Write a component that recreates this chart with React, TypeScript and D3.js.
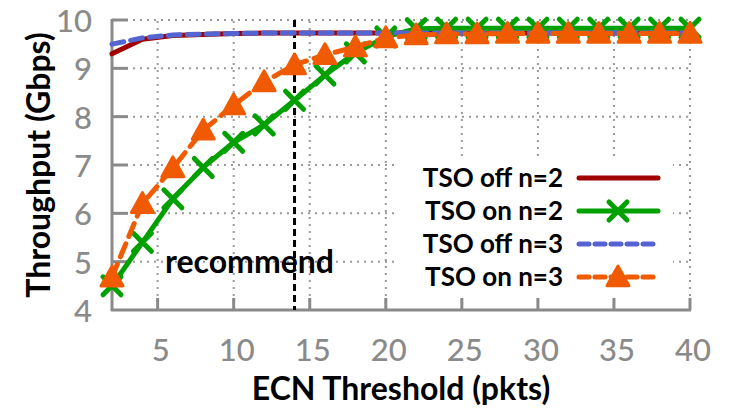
import React from "react";
import * as d3 from "d3";

const thresholds = [2, 4, 6, 8, 10, 12, 14, 16, 18, 20, 22, 24, 26, 28, 30, 32, 34, 36, 38, 40];
const tsoOffN2 = [9.3, 9.6, 9.68, 9.7, 9.72, 9.73, 9.73, 9.73, 9.73, 9.73, 9.73, 9.73, 9.73, 9.73, 9.73, 9.73, 9.73, 9.73, 9.73, 9.73];
const tsoOnN2 = [4.5, 5.4, 6.3, 6.95, 7.47, 7.83, 8.34, 8.86, 9.32, 9.65, 9.82, 9.83, 9.83, 9.83, 9.83, 9.83, 9.83, 9.83, 9.83, 9.83];
const tsoOffN3 = [9.5, 9.63, 9.69, 9.71, 9.72, 9.73, 9.73, 9.73, 9.73, 9.73, 9.73, 9.73, 9.73, 9.73, 9.73, 9.73, 9.73, 9.73, 9.73, 9.73];
const tsoOnN3 = [4.68, 6.2, 6.94, 7.72, 8.24, 8.72, 9.07, 9.28, 9.44, 9.63, 9.69, 9.71, 9.71, 9.72, 9.72, 9.72, 9.72, 9.72, 9.72, 9.72];
const xTicks = [5, 10, 15, 20, 25, 30, 35, 40];
const yTicks = [4, 5, 6, 7, 8, 9, 10];
const recommendAt = 14;

const W = 731;
const H = 412;
const gray = "#8a8a8a";
const font = "Lato, 'Open Sans', sans-serif";

export default function App() {
  const x = d3.scaleLinear().domain([2, 40]).range([112, 690]);
  const y = d3.scaleLinear().domain([4, 10]).range([310, 20]);

  const pts = (vals: number[]) => thresholds.map((t, i) => [t, vals[i]] as [number, number]);
  const line = d3.line<[number, number]>().x((d) => x(d[0])).y((d) => y(d[1]));

  const series = [
    { name: "TSO off n=2", vals: tsoOffN2, color: "#a00000", dash: "", marker: "none" },
    { name: "TSO on n=2", vals: tsoOnN2, color: "#00a000", dash: "", marker: "x" },
    { name: "TSO off n=3", vals: tsoOffN3, color: "#5464d0", dash: "12,7", marker: "none" },
    { name: "TSO on n=3", vals: tsoOnN3, color: "#f05a00", dash: "14,8", marker: "tri" },
  ];

  const marker = (kind: string, cx: number, cy: number, color: string, key: string | number) => {
    if (kind === "x") {
      const s = 9;
      return (
        <path
          key={key}
          d={`M${cx - s},${cy - s}L${cx + s},${cy + s}M${cx - s},${cy + s}L${cx + s},${cy - s}`}
          stroke={color}
          strokeWidth={5}
          strokeLinecap="round"
        />
      );
    }
    if (kind === "tri") {
      const s = 11;
      return (
        <path
          key={key}
          d={`M${cx},${cy - s}L${cx + s},${cy + s * 0.8}L${cx - s},${cy + s * 0.8}Z`}
          fill={color}
          stroke={color}
          strokeWidth={3}
          strokeLinejoin="round"
        />
      );
    }
    return null;
  };

  const legendY = [178, 211, 244, 277];

  return (
    <svg width={W} height={H} style={{ position: "absolute", left: 0, top: 0, background: "#fff" }}>
      {/* grid */}
      <g stroke="#999" strokeWidth={2} strokeDasharray="2,5">
        {yTicks.slice(1).map((t) => (
          <line key={"gy" + t} x1={x(2)} x2={x(40)} y1={y(t)} y2={y(t)} />
        ))}
        {xTicks.map((t) => (
          <line key={"gx" + t} x1={x(t)} x2={x(t)} y1={y(4)} y2={y(10)} />
        ))}
      </g>

      {/* axes */}
      <g stroke={gray} strokeWidth={3}>
        <line x1={x(2)} x2={x(2)} y1={y(10) - 1} y2={y(4) + 1} />
        <line x1={x(2) - 1} x2={x(40) + 1} y1={y(4)} y2={y(4)} />
        {yTicks.slice(1).map((t) => (
          <line key={"ty" + t} x1={x(2)} x2={x(2) + 16} y1={y(t)} y2={y(t)} />
        ))}
        {xTicks.map((t) => (
          <line key={"tx" + t} x1={x(t)} x2={x(t)} y1={y(4)} y2={y(4) - 12} />
        ))}
      </g>
      <g fill={gray} fontFamily={font} fontSize={31} fontWeight={500}>
        {yTicks.map((t) => (
          <text key={"ly" + t} x={x(2) - 20} y={y(t) + 1} dy="0.35em" textAnchor="end">
            {t}
          </text>
        ))}
        {xTicks.map((t) => (
          <text key={"lx" + t} x={x(t) + 3} y={361} textAnchor="middle">
            {t}
          </text>
        ))}
      </g>

      {/* recommend line */}
      <line
        x1={x(recommendAt)}
        x2={x(recommendAt)}
        y1={y(10)}
        y2={y(4)}
        stroke="#000"
        strokeWidth={3}
        strokeDasharray="7,4"
      />
      <text x={165} y={273} fontFamily={font} fontSize={32} fontWeight={700} fill="#000">
        recommend
      </text>

      {/* series */}
      {series.map((s) => (
        <g key={s.name}>
          <path
            d={line(pts(s.vals)) || ""}
            fill="none"
            stroke={s.color}
            strokeWidth={5}
            strokeDasharray={s.dash}
            strokeLinecap="round"
            strokeLinejoin="round"
          />
          {pts(s.vals).map((p, i) => marker(s.marker, x(p[0]), y(p[1]), s.color, i))}
        </g>
      ))}

      {/* legend */}
      <rect x={395} y={160} width={278} height={136} fill="#fff" />
      {series.map((s, i) => (
        <g key={"leg" + s.name}>
          <text
            x={563}
            y={legendY[i]}
            dy="0.35em"
            textAnchor="end"
            fontFamily={font}
            fontSize={26}
            fontWeight={700}
            fill="#000"
          >
            {s.name}
          </text>
          <line
            x1={579}
            x2={658}
            y1={legendY[i]}
            y2={legendY[i]}
            stroke={s.color}
            strokeWidth={5}
            strokeDasharray={s.dash ? "10,6" : ""}
            strokeLinecap="round"
          />
          {marker(s.marker, 618, legendY[i], s.color, "m" + i)}
        </g>
      ))}

      {/* axis titles */}
      <text
        transform={`translate(50,${y(7)}) rotate(-90)`}
        textAnchor="middle"
        fontFamily={font}
        fontSize={32}
        fontWeight={700}
        fill="#000"
      >
        Throughput (Gbps)
      </text>
      <text x={401} y={400} textAnchor="middle" fontFamily={font} fontSize={32} fontWeight={700} fill="#000">
        ECN Threshold (pkts)
      </text>
    </svg>
  );
}
